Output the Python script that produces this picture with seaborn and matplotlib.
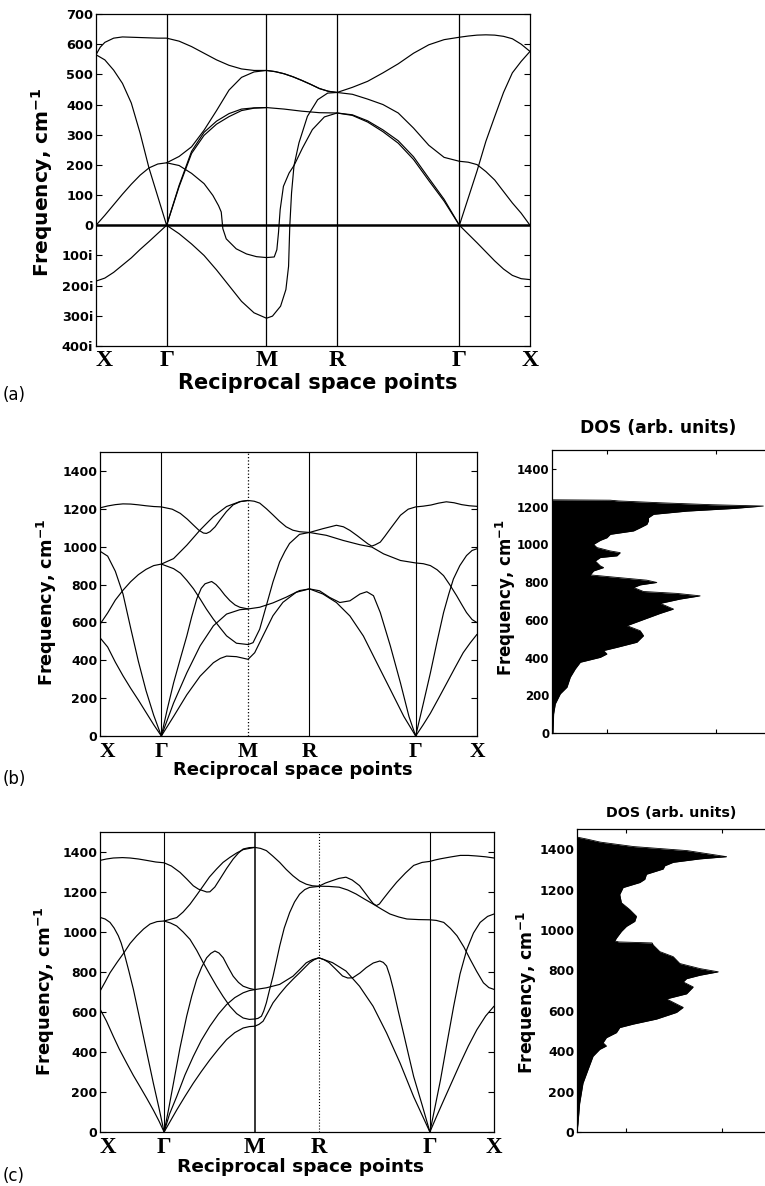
import numpy as np
import pandas as pd
import matplotlib
matplotlib.use("Agg")
import matplotlib.pyplot as plt
import seaborn as sns

sns.set_style("ticks", {"xtick.direction": "in", "ytick.direction": "in"})
plt.rcParams["font.family"] = ["DejaVu Sans"]
plt.rcParams["font.weight"] = "bold"
plt.rcParams["mathtext.fontset"] = "dejavusans"
plt.rcParams["mathtext.default"] = "bf"
for key in ("text.color", "axes.labelcolor", "xtick.color", "ytick.color", "axes.edgecolor"):
    plt.rcParams[key] = "black"

# ---------------------------------------------------------------------------
# Path through the simple-cubic Brillouin zone: X - Γ - M - R - Γ - X
# Branch points are given as (s, ω): s is the position along the path in
# segment units (0 = X, 1 = Γ, 2 = M, 3 = R, 4 = Γ, 5 = X), ω in cm^-1
# (imaginary modes are stored as negative numbers).
# ---------------------------------------------------------------------------
POINT_LABELS = ["X", "Γ", "M", "R", "Γ", "X"]
SEGMENT_LENGTHS = [0.5, 0.7071, 0.5, 0.8660, 0.5]

# ---- (a) cubic phase, 0 - 700 cm^-1 with unstable modes --------------------
a_branches = [
    # highest branch
    [(0, 565), (0.06, 590), (0.125, 606), (0.25, 620), (0.375, 624), (0.5, 623), (0.625, 622), (0.75, 621),
     (0.875, 620), (1, 620), (1.125, 610), (1.25, 592), (1.375, 570), (1.5, 548), (1.625, 530), (1.75, 518),
     (1.875, 513), (2, 513), (2.125, 509), (2.25, 502), (2.375, 492), (2.5, 480), (2.625, 467), (2.75, 453),
     (2.875, 444), (3, 440), (3.125, 457), (3.25, 477), (3.375, 505), (3.5, 535), (3.625, 570), (3.75, 598),
     (3.875, 615), (4, 623), (4.125, 627), (4.25, 630), (4.375, 631), (4.5, 630), (4.625, 626), (4.75, 618),
     (4.875, 600), (5, 576)],
    # 0 at X -> 207 at Γ -> 513 at M -> 440 at R -> 212 at Γ -> 0 at X
    [(0, 0), (0.125, 33), (0.25, 68), (0.375, 103), (0.5, 136), (0.625, 166), (0.75, 190), (0.875, 203),
     (1, 207), (1.125, 228), (1.25, 260), (1.375, 315), (1.5, 380), (1.625, 448), (1.75, 490), (1.875, 508),
     (2, 513), (2.125, 509), (2.25, 502), (2.375, 492), (2.5, 480), (2.625, 467), (2.75, 453), (2.875, 444),
     (3, 440), (3.125, 434), (3.25, 418), (3.375, 400), (3.5, 372), (3.625, 322), (3.75, 265), (3.875, 225),
     (4, 212), (4.125, 209), (4.25, 201), (4.375, 178), (4.5, 150), (4.625, 112), (4.75, 74), (4.875, 40),
     (5, 0)],
    # 565 at X -> 0 at Γ -> 390 at M -> 372 at R -> 0 at Γ -> 576 at X
    [(0, 565), (0.125, 548), (0.25, 514), (0.375, 470), (0.5, 405), (0.625, 305), (0.75, 190), (0.875, 95),
     (1, 0), (1.125, 128), (1.25, 238), (1.375, 298), (1.5, 335), (1.625, 360), (1.75, 380), (1.875, 388),
     (2, 390), (2.25, 385), (2.5, 378), (2.75, 373), (3, 372), (3.125, 366), (3.25, 346), (3.375, 316),
     (3.5, 280), (3.625, 227), (3.75, 156), (3.875, 86), (4, 0), (4.125, 90), (4.25, 180), (4.375, 278),
     (4.5, 360), (4.625, 440), (4.75, 505), (4.875, 543), (5, 576)],
    # 185i at X -> 0 at Γ -> 308i at M -> 440 at R
    [(0, -185), (0.125, -175), (0.25, -156), (0.375, -132), (0.5, -108), (0.625, -80), (0.75, -54),
     (0.875, -27), (1, 0), (1.125, -28), (1.25, -62), (1.375, -100), (1.5, -148), (1.625, -200),
     (1.75, -252), (1.875, -290), (2, -308), (2.085, -301), (2.2, -268), (2.275, -213), (2.313, -136),
     (2.33, -3), (2.355, 107), (2.39, 198), (2.46, 273), (2.58, 361), (2.725, 416), (2.867, 438), (3, 440)],
    # 207 at Γ -> 107i at M -> 372 at R
    [(1, 207), (1.125, 198), (1.25, 172), (1.375, 138), (1.463, 99), (1.52, 65), (1.547, 44), (1.563, -11),
     (1.597, -45), (1.697, -78), (1.8, -95), (1.9, -104), (2, -107), (2.11, -105), (2.147, -81),
     (2.17, -25), (2.194, 52), (2.24, 129), (2.32, 173), (2.39, 198), (2.51, 256), (2.65, 317), (2.82, 359),
     (3, 372)],
    # second acoustic-like branch Γ -> M
    [(1, 0), (1.125, 132), (1.25, 245), (1.375, 308), (1.5, 345), (1.625, 370), (1.75, 385), (1.875, 389),
     (2, 390)],
    # second branch R -> Γ
    [(3, 372), (3.125, 364), (3.25, 342), (3.375, 310), (3.5, 272), (3.625, 218), (3.75, 148), (3.875, 80),
     (4, 0)],
    # unstable branch Γ -> X
    [(4, 0), (4.125, -29), (4.25, -58), (4.375, -88), (4.5, -118), (4.625, -145), (4.75, -166),
     (4.875, -177), (5, -180)],
]
a_yticks = [-400, -300, -200, -100, 0, 100, 200, 300, 400, 500, 600, 700]
a_yticklabels = ["400i", "300i", "200i", "100i", "0", "100", "200", "300", "400", "500", "600", "700"]

# ---- (b) -------------------------------------------------------------------
b_branches = [
    [(0, 1205), (0.125, 1215), (0.25, 1222), (0.375, 1226), (0.5, 1225), (0.625, 1221), (0.75, 1216),
     (0.875, 1212), (1, 1210), (1.125, 1198), (1.218, 1176), (1.3, 1145), (1.37, 1114), (1.43, 1088),
     (1.485, 1072), (1.52, 1070), (1.561, 1079), (1.62, 1105), (1.676, 1141), (1.75, 1185), (1.828, 1221),
     (1.91, 1238), (2, 1244), (2.1, 1240), (2.19, 1230), (2.3, 1200), (2.405, 1168), (2.51, 1135),
     (2.62, 1105), (2.73, 1087), (2.84, 1079), (3, 1075), (3.127, 1095), (3.254, 1113), (3.32, 1105),
     (3.381, 1086), (3.45, 1058), (3.508, 1033), (3.55, 1015), (3.587, 1003), (3.62, 1010), (3.667, 1024),
     (3.71, 1055), (3.762, 1095), (3.857, 1166), (3.93, 1198), (4, 1210), (4.125, 1214), (4.25, 1220),
     (4.375, 1230), (4.5, 1237), (4.625, 1232), (4.75, 1222), (4.875, 1216), (5, 1213)],
    [(0, 590), (0.125, 650), (0.25, 718), (0.375, 770), (0.5, 815), (0.625, 852), (0.75, 880), (0.875, 900),
     (1, 908), (1.141, 937), (1.294, 1008), (1.447, 1088), (1.6, 1159), (1.752, 1212), (1.905, 1238),
     (2, 1244)],
    [(3, 1075), (3.159, 1060), (3.317, 1033), (3.476, 1010), (3.587, 998), (3.698, 962), (3.857, 927),
     (4, 914), (4.125, 910), (4.24, 900), (4.35, 878), (4.455, 847), (4.56, 797), (4.668, 741), (4.75, 695),
     (4.829, 652), (4.92, 615), (5, 599)],
    [(0, 976), (0.125, 950), (0.25, 870), (0.375, 750), (0.5, 570), (0.625, 395), (0.75, 240), (0.875, 110),
     (1, 0), (1.07, 145), (1.141, 280), (1.22, 410), (1.294, 529), (1.35, 630), (1.408, 724), (1.46, 780),
     (1.504, 804), (1.58, 816), (1.63, 800), (1.676, 777), (1.73, 745), (1.79, 715), (1.85, 692),
     (1.905, 680), (2, 671), (2.189, 680), (2.405, 703), (2.62, 733), (2.838, 768), (3, 777), (3.095, 767),
     (3.19, 732), (3.286, 705), (3.381, 714), (3.476, 750), (3.54, 762), (3.603, 741), (3.667, 652),
     (3.762, 475), (3.857, 280), (3.937, 103), (4, 0), (4.12, 165), (4.24, 333), (4.35, 500), (4.455, 652),
     (4.54, 750), (4.615, 829), (4.72, 900), (4.829, 953), (4.92, 980), (5, 989)],
    [(0, 519), (0.125, 470), (0.25, 390), (0.375, 318), (0.5, 252), (0.625, 190), (0.75, 125), (0.875, 60),
     (1, 0), (1.141, 103), (1.294, 218), (1.447, 316), (1.6, 387), (1.68, 410), (1.752, 422), (1.866, 419),
     (2, 405), (2.108, 440), (2.243, 529), (2.405, 635), (2.568, 706), (2.784, 759), (3, 777), (3.127, 750),
     (3.254, 705), (3.381, 634), (3.508, 528), (3.635, 386), (3.762, 245), (3.889, 103), (4, 0), (4.12, 58),
     (4.24, 120), (4.375, 200), (4.508, 280), (4.64, 360), (4.775, 440), (4.89, 492), (5, 537)],
    [(1, 908), (1.141, 884), (1.22, 860), (1.294, 822), (1.37, 778), (1.447, 724), (1.52, 670), (1.6, 617),
     (1.68, 570), (1.752, 529), (1.866, 490), (2, 483), (2.081, 493), (2.189, 564), (2.297, 688),
     (2.405, 813), (2.514, 919), (2.6, 975), (2.676, 1017), (2.838, 1065), (3, 1075)],
    [(1, 0), (1.141, 174), (1.294, 334), (1.447, 476), (1.6, 582), (1.752, 644), (1.905, 667), (2, 671)],
]

# ---- (c) -------------------------------------------------------------------
c_branches = [
    [(0, 1358), (0.1, 1365), (0.208, 1370), (0.35, 1372), (0.469, 1370), (0.6, 1365), (0.729, 1358),
     (0.87, 1350), (1, 1346), (1.08, 1330), (1.176, 1298), (1.25, 1265), (1.322, 1231), (1.38, 1214),
     (1.432, 1206), (1.47, 1200), (1.505, 1201), (1.56, 1225), (1.615, 1264), (1.69, 1318), (1.762, 1365),
     (1.82, 1395), (1.872, 1415), (1.94, 1422), (2, 1423), (2.09, 1418), (2.181, 1407), (2.28, 1380),
     (2.389, 1348), (2.49, 1313), (2.596, 1281), (2.7, 1255), (2.803, 1239), (2.9, 1231), (3, 1229),
     (3.06, 1245), (3.122, 1257), (3.18, 1268), (3.244, 1274), (3.3, 1260), (3.366, 1232), (3.41, 1200),
     (3.457, 1165), (3.49, 1142), (3.518, 1132), (3.545, 1140), (3.579, 1165), (3.64, 1208), (3.701, 1249),
     (3.78, 1295), (3.854, 1333), (3.93, 1348), (4, 1353), (4.08, 1360), (4.165, 1366), (4.32, 1375),
     (4.474, 1383), (4.6, 1383), (4.732, 1380), (4.87, 1376), (5, 1370)],
    [(0, 704), (0.08, 750), (0.156, 796), (0.27, 850), (0.375, 897), (0.47, 943), (0.573, 981), (0.68, 1015),
     (0.781, 1040), (0.89, 1052), (1, 1055), (1.139, 1072), (1.21, 1100), (1.286, 1139), (1.36, 1185),
     (1.432, 1231), (1.5, 1275), (1.579, 1315), (1.65, 1348), (1.725, 1373), (1.8, 1395), (1.872, 1412),
     (2, 1423)],
    [(3, 1229), (3.09, 1228), (3.183, 1224), (3.26, 1210), (3.335, 1190), (3.41, 1165), (3.488, 1140),
     (3.565, 1114), (3.64, 1090), (3.72, 1075), (3.793, 1065), (3.9, 1062), (4, 1061), (4.1, 1058),
     (4.216, 1048), (4.32, 1018), (4.423, 981), (4.53, 925), (4.629, 863), (4.73, 803), (4.835, 746),
     (4.92, 722), (5, 713)],
    [(0, 1073), (0.08, 1065), (0.156, 1048), (0.22, 1020), (0.286, 981), (0.33, 945), (0.375, 897),
     (0.45, 805), (0.521, 713), (0.6, 595), (0.677, 478), (0.755, 360), (0.833, 243), (0.92, 120), (1, 0),
     (1.05, 115), (1.103, 244), (1.175, 420), (1.249, 579), (1.305, 680), (1.359, 763), (1.415, 825),
     (1.469, 871), (1.515, 893), (1.56, 905), (1.605, 895), (1.652, 871), (1.705, 825), (1.762, 779),
     (1.82, 748), (1.872, 729), (1.94, 718), (2, 712), (2.181, 721), (2.389, 738), (2.596, 779), (2.7, 812),
     (2.803, 846), (2.9, 862), (3, 871), (3.045, 862), (3.091, 847), (3.15, 815), (3.213, 780), (3.26, 770),
     (3.305, 771), (3.37, 795), (3.427, 822), (3.49, 845), (3.549, 855), (3.58, 848), (3.61, 830),
     (3.64, 780), (3.671, 713), (3.715, 605), (3.762, 495), (3.808, 385), (3.854, 277), (3.93, 135), (4, 0),
     (4.08, 125), (4.165, 260), (4.27, 450), (4.371, 629), (4.47, 790), (4.577, 914), (4.68, 995),
     (4.784, 1048), (4.9, 1078), (5, 1090)],
    [(0, 615), (0.1, 555), (0.208, 478), (0.3, 415), (0.417, 344), (0.52, 283), (0.625, 226), (0.73, 168),
     (0.833, 109), (0.92, 55), (1, 0), (1.139, 110), (1.23, 178), (1.322, 244), (1.41, 302), (1.505, 361),
     (1.6, 415), (1.689, 462), (1.78, 497), (1.872, 520), (1.94, 527), (2, 529), (2.065, 538), (2.13, 554),
     (2.2, 595), (2.285, 646), (2.39, 690), (2.492, 729), (2.6, 765), (2.699, 796), (2.78, 822), (2.855, 846),
     (2.93, 862), (3, 871), (3.122, 847), (3.244, 805), (3.366, 729), (3.488, 629), (3.61, 495), (3.732, 344),
     (3.854, 176), (4, 0), (4.1, 75), (4.216, 159), (4.35, 255), (4.474, 344), (4.6, 430), (4.732, 511),
     (4.87, 580), (5, 629)],
    [(1, 1055), (1.07, 1045), (1.139, 1030), (1.21, 1000), (1.286, 963), (1.36, 908), (1.432, 846),
     (1.505, 787), (1.579, 729), (1.65, 678), (1.725, 629), (1.8, 592), (1.872, 570), (1.94, 563), (2, 565),
     (2.05, 568), (2.104, 579), (2.14, 605), (2.181, 646), (2.23, 710), (2.285, 779), (2.34, 858),
     (2.389, 930), (2.46, 1020), (2.544, 1097), (2.62, 1150), (2.699, 1189), (2.78, 1212), (2.855, 1223),
     (3, 1228)],
    [(1, 0), (1.06, 90), (1.139, 177), (1.23, 285), (1.322, 378), (1.41, 458), (1.505, 529), (1.6, 590),
     (1.689, 637), (1.78, 672), (1.872, 696), (1.94, 707), (2, 712)],
]

freq_ticks = [0, 200, 400, 600, 800, 1000, 1200, 1400]

# ---- phonon densities of states (arbitrary units) ----------------------------
b_dos_freq = [0, 102, 155, 208, 243, 296, 340, 375, 401, 419, 437, 454, 481, 516, 542, 569, 595, 634, 657,
              687, 710, 727, 740, 750, 771, 785, 798, 810, 828, 838, 859, 877, 886, 912, 930, 939, 956, 965,
              983, 1000, 1021, 1035, 1053, 1071, 1088, 1106, 1125, 1141, 1159, 1176, 1190, 1203, 1210, 1220,
              1230, 1234, 1236]
b_dos_val = [3, 5, 10, 25, 45, 55, 70, 85, 145, 165, 155, 195, 255, 275, 265, 225, 265, 325, 365, 325, 385,
             445, 375, 275, 245, 265, 315, 285, 175, 115, 125, 155, 145, 130, 145, 195, 205, 175, 135, 125,
             145, 165, 175, 245, 265, 285, 290, 290, 305, 405, 545, 635, 480, 330, 200, 175, 0]
b_dos_scale = 640

c_dos_freq = [0, 42, 142, 242, 309, 375, 409, 426, 442, 467, 492, 517, 534, 559, 592, 617, 642, 659, 684,
              718, 743, 759, 776, 793, 809, 834, 868, 893, 926, 936, 941, 946, 960, 993, 1018, 1043, 1068,
              1101, 1135, 1176, 1210, 1235, 1251, 1276, 1302, 1318, 1335, 1352, 1363, 1393, 1413, 1435, 1450,
              1460]
c_dos_val = [0, 3, 8, 18, 33, 48, 68, 88, 78, 88, 118, 128, 168, 238, 298, 318, 288, 268, 328, 348, 318,
             328, 368, 423, 368, 308, 288, 248, 228, 225, 125, 113, 118, 133, 148, 173, 178, 158, 133, 128,
             138, 188, 203, 208, 258, 263, 288, 368, 448, 330, 170, 70, 30, 0]
c_dos_scale = 563

# ---------------------------------------------------------------------------
NODES = np.concatenate([[0.0], np.cumsum(SEGMENT_LENGTHS)])
W, H = 765, 1186
fig = plt.figure(figsize=(W / 100, H / 100), dpi=100)


def box(left, top, right, bottom):
    return [left / W, 1 - bottom / H, (right - left) / W, (bottom - top) / H]


YLABEL = "Frequency, cm$^{-1}$"
SERIF = ["Liberation Serif", "DejaVu Serif"]


def draw_bands(ax, branches, ylim, line_styles, label_sizes, xl_pos, yl_pos, point_pad):
    rows = []
    for i, branch in enumerate(branches):
        for s, w in branch:
            rows.append((i, float(np.interp(s, np.arange(6), NODES)), w))
    df = pd.DataFrame(rows, columns=["branch", "q", "freq"])
    sns.lineplot(data=df, x="q", y="freq", units="branch", estimator=None, sort=False,
                 color="black", lw=0.85, ax=ax, legend=False)
    for node, (ls, lw) in zip(NODES[1:-1], line_styles):
        ax.axvline(node, color="black", ls=ls, lw=lw, zorder=1)
    ax.set_xlim(NODES[0], NODES[-1])
    ax.set_ylim(*ylim)
    tick_fs, point_fs, xl_fs, yl_fs = label_sizes
    ax.set_xticks(NODES)
    ax.set_xticklabels(POINT_LABELS, fontfamily=SERIF, fontsize=point_fs, fontweight="bold")
    ax.get_xticklabels()[0].set_ha("left")
    ax.tick_params(axis="x", length=0, pad=point_pad)
    ax.tick_params(axis="y", which="both", direction="in", left=True, right=True, length=4, width=0.8,
                   labelsize=tick_fs, pad=2)
    ax.set_xlabel("Reciprocal space points", fontsize=xl_fs, fontweight="bold")
    ax.set_ylabel(YLABEL, fontsize=yl_fs, fontweight="bold")
    ax.xaxis.set_label_coords(*xl_pos)
    ax.yaxis.set_label_coords(*yl_pos)
    ax.xaxis.label.set_va("center")
    ax.yaxis.label.set_va("center")
    for sp in ax.spines.values():
        sp.set_linewidth(0.9)
        sp.set_color("black")


def draw_dos(ax, freq, val, scale, tick_fs, yl_fs, title_fs, yl_pos, title_y):
    x = np.asarray(val, float) / scale
    y = np.asarray(freq, float)
    ax.fill_betweenx(y, 0, x, color="black", lw=0)
    sns.lineplot(x=x, y=y, orient="y", sort=False, color="black", lw=0.6, ax=ax)
    ax.set_xlim(0, 1)
    ax.set_ylim(0, 1500)
    ax.set_yticks(freq_ticks)
    ax.set_xticks([0.26, 0.77])
    ax.set_xticklabels([])
    ax.tick_params(axis="x", direction="in", top=True, bottom=True, length=3, width=0.8)
    ax.tick_params(axis="y", direction="in", length=3, width=0.8, labelsize=tick_fs, pad=2)
    ax.spines["right"].set_visible(False)
    for sp in ax.spines.values():
        sp.set_linewidth(0.9)
        sp.set_color("black")
    ax.set_xlabel("")
    ax.set_ylabel(YLABEL, fontsize=yl_fs, fontweight="bold")
    ax.yaxis.set_label_coords(*yl_pos)
    ax.yaxis.label.set_va("center")
    ax.set_title("DOS (arb. units)", fontsize=title_fs, fontweight="bold", y=title_y, va="center", pad=0)


# (a)
ax_a = fig.add_axes(box(96, 14, 530, 346))
draw_bands(ax_a, a_branches, (-400, 700),
           [("-", 0.9), ("-", 0.9), ("-", 0.9), ("-", 0.9)],
           (9.3, 17, 15, 14.5), (0.51, -0.111), (-0.124, 0.494), 3)
ax_a.axhline(0, color="black", lw=1.8, zorder=3)
ax_a.set_yticks(a_yticks)
ax_a.set_yticklabels(a_yticklabels)

# (b)
ax_b = fig.add_axes(box(100, 452, 477, 736))
draw_bands(ax_b, b_branches, (0, 1500),
           [("-", 0.8), (":", 0.9), ("-", 0.8), ("-", 0.8)],
           (9, 15.5, 13, 12.8), (0.511, -0.12), (-0.141, 0.472), 4)
ax_b.set_yticks(freq_ticks)

ax_bd = fig.add_axes(box(552, 450, 765, 733))
draw_dos(ax_bd, b_dos_freq, b_dos_val, b_dos_scale, 8.5, 12, 12.3, (-0.216, 0.48), 1.078)

# (c)
ax_c = fig.add_axes(box(100, 832, 494, 1132))
draw_bands(ax_c, c_branches, (0, 1500),
           [("-", 0.8), ("-", 1.1), (":", 0.8), ("-", 0.8)],
           (9, 16.5, 13.3, 13), (0.51, -0.117), (-0.14, 0.47), 3.5)
ax_c.set_yticks(freq_ticks)

ax_cd = fig.add_axes(box(577, 829, 765, 1132))
draw_dos(ax_cd, c_dos_freq, c_dos_val, c_dos_scale, 9, 12.4, 10.3, (-0.266, 0.459), 1.053)

# panel letters
for letter, ypix in (("(a)", 395), ("(b)", 779), ("(c)", 1176)):
    fig.text(3 / W, 1 - ypix / H, letter, fontsize=12, fontweight="normal", va="center", ha="left")

fig.savefig("out.png", dpi=100, facecolor="white")
